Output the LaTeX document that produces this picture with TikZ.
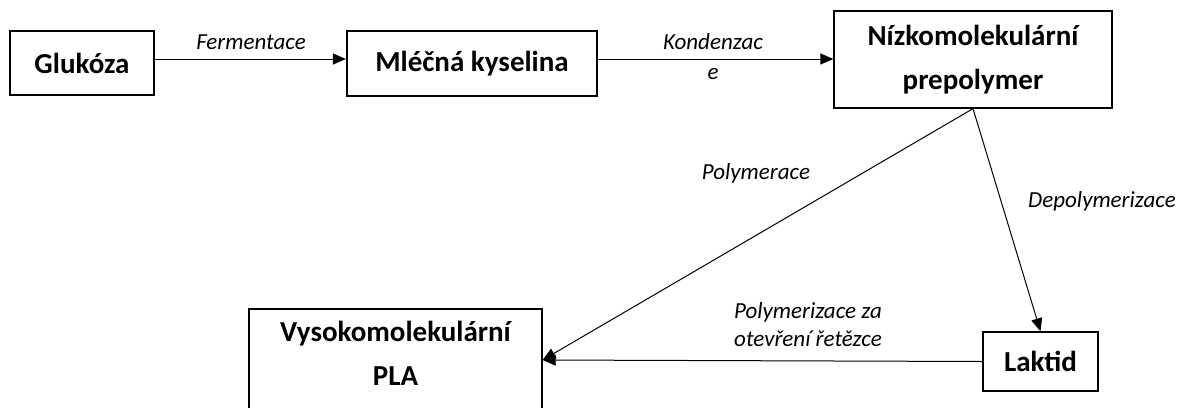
\documentclass[tikz,border=0pt]{standalone}
\usepackage{fontspec}
\setmainfont{Carlito}
\usetikzlibrary{arrows.meta}
\begin{document}
\begin{tikzpicture}[x=1pt,y=-1pt,
  box/.style={draw, inner sep=0pt, font=\fontsize{29}{44}\selectfont\bfseries, align=center, line width=1.3pt},
  thickbox/.style={box, line width=2.2pt},
  lbl/.style={font=\fontsize{23}{28}\selectfont\itshape, inner sep=0pt, align=center},
  conn/.style={line width=1pt, -{Triangle[length=13pt,width=11pt]}}]
\clip (0,0) rectangle (1180,407);
\fill[white] (0,0) rectangle (1180,407);
% boxes
\node[thickbox, minimum width=144pt, minimum height=64pt] (g) at (82,63) {Glukóza};
\node[thickbox, minimum width=250pt, minimum height=65pt] (m) at (472,63.5) {Mléčná kyselina};
\node[box, minimum width=278pt, minimum height=97pt] (n) at (973,59.5) {Nízkomolekulární\\prepolymer};
\node[box, minimum width=293pt, minimum height=102pt] (v) at (395.5,360) {\raisebox{5pt}[\height][\depth]{\begin{tabular}{@{}c@{}}Vysokomolekulární\\PLA\end{tabular}}};
\node[box, minimum width=115pt, minimum height=59pt] (l) at (1040.5,361.5) {Laktid};
% connectors
\draw[conn] ([yshift=4pt]g.east) -- ([yshift=4.5pt]m.west);
\draw[conn] ([yshift=4.5pt]m.east) -- ([yshift=0.5pt]n.west);
\draw[conn] (n.south) -- (v.east);
\draw[conn] (n.south) -- (l.north);
\draw[conn] (l.west) -- (v.east);
% labels
\node[lbl] (lf) at (251,42) {Fermentace};
\node[lbl, font=\fontsize{23}{30}\selectfont\itshape] (lk) at (713,57) {Kondenzac\\e};
\node[lbl] (lp) at (756,173) {Polymerace};
\node[lbl] (ld) at (1102,201) {Depolymerizace};
\node[lbl] (lo) at (808,325) {Polymerizace za\\otevření řetězce};
\end{tikzpicture}
\end{document}
